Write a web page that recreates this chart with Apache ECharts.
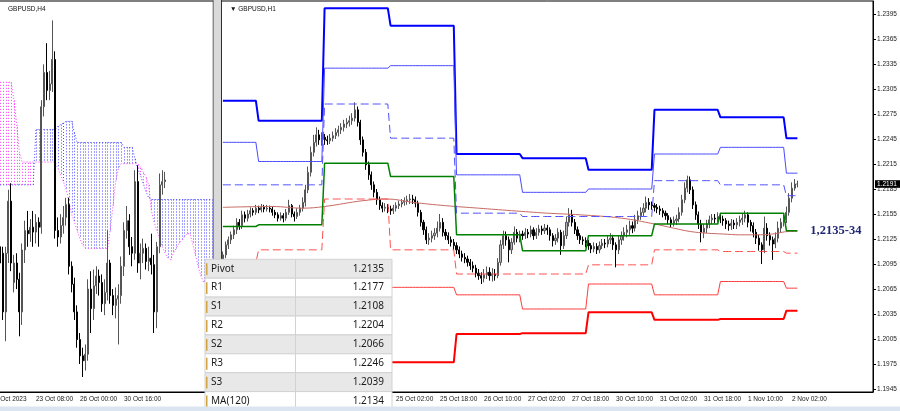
<!DOCTYPE html>
<html><head><meta charset="utf-8">
<script src="https://cdn.jsdelivr.net/npm/echarts@6/dist/echarts.min.js"></script>
<style>html,body{margin:0;padding:0;background:#fff}#c{width:900px;height:411px}</style>
</head><body><div id="c"></div>
<script>
// ---------------- DATA ----------------
const symbolH4 = 'GBPUSD,H4';
const symbolH1 = '\u25BC GBPUSD,H1';
const annotText = '1,2135-34';

// H1 calendar (days shown, first hour of first day)
const h1Days = ['20 Oct','23 Oct','24 Oct','25 Oct','26 Oct','27 Oct','30 Oct','31 Oct','1 Nov','2 Nov','3 Nov'];
const h1FirstHour = 11;
const h1SlotCount = 237;
const h1TickLabels = ['23 Oct 02:00','23 Oct 18:00','24 Oct 10:00','25 Oct 02:00','25 Oct 18:00','26 Oct 10:00','27 Oct 02:00','27 Oct 18:00','30 Oct 10:00','31 Oct 02:00','31 Oct 18:00','1 Nov 10:00','2 Nov 02:00'];
const h1PriceTicks = [1.1945,1.1975,1.2005,1.2035,1.2065,1.2095,1.2125,1.2155,1.2185,1.2215,1.2245,1.2275,1.2305,1.2335,1.2365,1.2395];

// H4 calendar
const h4Days = ['19 Oct','20 Oct','23 Oct','24 Oct','25 Oct','26 Oct','27 Oct','30 Oct','31 Oct','1 Nov','2 Nov','3 Nov','6 Nov','7 Nov'];
const h4FirstHour = 4;
const h4SlotCount = 78;
const h4TickCats = ['19 Oct 04:00','23 Oct 08:00','26 Oct 00:00','30 Oct 16:00'];
const h4TickLabels = ['19 Oct 2023','23 Oct 08:00','26 Oct 00:00','30 Oct 16:00'];

// H1 candles [open, close, low, high]
const h1Candles = [
[1.2100,1.2106,1.2094,1.2110],[1.2106,1.2118,1.2102,1.2122],[1.2118,1.2124,1.2113,1.2128],[1.2124,1.2130,1.2119,1.2134],
[1.2130,1.2136,1.2125,1.2141],[1.2136,1.2145,1.2131,1.2150],[1.2145,1.2141,1.2136,1.2149],[1.2141,1.2154,1.2137,1.2159],
[1.2154,1.2150,1.2145,1.2158],[1.2150,1.2155,1.2146,1.2160],[1.2155,1.2159,1.2151,1.2163],[1.2159,1.2157,1.2153,1.2162],
[1.2157,1.2162,1.2154,1.2166],[1.2162,1.2160,1.2156,1.2165],[1.2160,1.2163,1.2157,1.2167],[1.2163,1.2161,1.2157,1.2166],
[1.2161,1.2162,1.2158,1.2166],[1.2162,1.2161,1.2157,1.2165],[1.2161,1.2157,1.2153,1.2164],[1.2157,1.2154,1.2150,1.2160],
[1.2154,1.2150,1.2146,1.2157],[1.2150,1.2153,1.2147,1.2157],[1.2153,1.2150,1.2145,1.2156],[1.2150,1.2157,1.2147,1.2161],
[1.2157,1.2165,1.2154,1.2172],[1.2165,1.2155,1.2151,1.2167],[1.2155,1.2152,1.2146,1.2158],[1.2152,1.2157,1.2149,1.2162],
[1.2157,1.2162,1.2153,1.2166],[1.2162,1.2169,1.2158,1.2175],[1.2169,1.2184,1.2164,1.2190],[1.2184,1.2205,1.2180,1.2212],
[1.2205,1.2229,1.2200,1.2236],[1.2229,1.2241,1.2224,1.2250],[1.2241,1.2250,1.2236,1.2259],[1.2250,1.2244,1.2238,1.2256],
[1.2244,1.2247,1.2237,1.2253],[1.2247,1.2244,1.2238,1.2251],[1.2244,1.2243,1.2238,1.2249],[1.2243,1.2246,1.2239,1.2251],
[1.2246,1.2249,1.2242,1.2254],[1.2249,1.2253,1.2245,1.2258],[1.2253,1.2256,1.2248,1.2261],[1.2256,1.2259,1.2251,1.2264],
[1.2259,1.2263,1.2254,1.2268],[1.2263,1.2265,1.2258,1.2270],[1.2265,1.2267,1.2260,1.2273],[1.2267,1.2270,1.2262,1.2276],
[1.2270,1.2280,1.2266,1.2289],[1.2280,1.2265,1.2260,1.2284],[1.2265,1.2244,1.2238,1.2268],[1.2244,1.2229,1.2224,1.2248],
[1.2229,1.2214,1.2208,1.2233],[1.2214,1.2202,1.2196,1.2218],[1.2202,1.2190,1.2184,1.2206],[1.2190,1.2181,1.2175,1.2194],
[1.2181,1.2172,1.2166,1.2185],[1.2172,1.2165,1.2160,1.2176],[1.2165,1.2162,1.2157,1.2169],[1.2162,1.2163,1.2158,1.2168],
[1.2163,1.2161,1.2156,1.2167],[1.2161,1.2159,1.2154,1.2165],[1.2159,1.2162,1.2155,1.2166],[1.2162,1.2165,1.2158,1.2169],
[1.2165,1.2167,1.2161,1.2171],[1.2167,1.2169,1.2163,1.2173],[1.2169,1.2171,1.2165,1.2175],[1.2171,1.2172,1.2166,1.2177],
[1.2172,1.2173,1.2167,1.2179],[1.2173,1.2172,1.2167,1.2178],[1.2172,1.2168,1.2163,1.2176],[1.2168,1.2157,1.2152,1.2171],
[1.2157,1.2145,1.2140,1.2160],[1.2145,1.2136,1.2130,1.2148],[1.2136,1.2124,1.2119,1.2140],[1.2124,1.2126,1.2118,1.2132],
[1.2126,1.2129,1.2121,1.2135],[1.2129,1.2132,1.2124,1.2138],[1.2132,1.2138,1.2127,1.2146],[1.2138,1.2145,1.2134,1.2155],
[1.2145,1.2133,1.2128,1.2150],[1.2133,1.2129,1.2124,1.2137],[1.2129,1.2124,1.2119,1.2133],[1.2124,1.2121,1.2116,1.2128],
[1.2121,1.2117,1.2112,1.2125],[1.2117,1.2112,1.2107,1.2121],[1.2112,1.2107,1.2102,1.2116],[1.2107,1.2103,1.2098,1.2111],
[1.2103,1.2101,1.2096,1.2108],[1.2101,1.2097,1.2092,1.2105],[1.2097,1.2093,1.2088,1.2101],[1.2093,1.2090,1.2085,1.2098],
[1.2090,1.2084,1.2079,1.2094],[1.2084,1.2081,1.2076,1.2089],[1.2081,1.2078,1.2071,1.2085],[1.2078,1.2082,1.2073,1.2089],
[1.2082,1.2085,1.2077,1.2092],[1.2085,1.2081,1.2075,1.2091],[1.2081,1.2083,1.2074,1.2090],[1.2083,1.2081,1.2075,1.2089],
[1.2081,1.2097,1.2078,1.2102],[1.2097,1.2118,1.2093,1.2124],[1.2118,1.2129,1.2113,1.2135],[1.2129,1.2124,1.2117,1.2134],
[1.2124,1.2112,1.2097,1.2128],[1.2112,1.2121,1.2107,1.2126],[1.2121,1.2133,1.2118,1.2140],[1.2133,1.2126,1.2121,1.2137],
[1.2126,1.2131,1.2121,1.2135],[1.2131,1.2129,1.2124,1.2135],[1.2129,1.2133,1.2125,1.2138],[1.2133,1.2131,1.2126,1.2137],
[1.2131,1.2136,1.2127,1.2141],[1.2136,1.2129,1.2124,1.2139],[1.2129,1.2133,1.2125,1.2138],[1.2133,1.2137,1.2129,1.2142],
[1.2137,1.2135,1.2130,1.2141],[1.2135,1.2138,1.2131,1.2143],[1.2138,1.2136,1.2130,1.2142],[1.2136,1.2129,1.2123,1.2139],
[1.2129,1.2123,1.2116,1.2132],[1.2123,1.2126,1.2118,1.2131],[1.2126,1.2133,1.2121,1.2138],[1.2133,1.2117,1.2106,1.2136],
[1.2117,1.2129,1.2113,1.2135],[1.2129,1.2145,1.2125,1.2152],[1.2145,1.2154,1.2140,1.2162],[1.2154,1.2145,1.2140,1.2160],
[1.2145,1.2136,1.2131,1.2149],[1.2136,1.2129,1.2124,1.2140],[1.2129,1.2124,1.2119,1.2132],[1.2124,1.2123,1.2118,1.2128],
[1.2123,1.2120,1.2115,1.2127],[1.2120,1.2117,1.2112,1.2124],[1.2117,1.2113,1.2108,1.2120],[1.2113,1.2116,1.2109,1.2121],
[1.2116,1.2112,1.2107,1.2120],[1.2112,1.2117,1.2108,1.2122],[1.2117,1.2120,1.2113,1.2125],[1.2120,1.2119,1.2114,1.2125],
[1.2119,1.2124,1.2115,1.2129],[1.2124,1.2126,1.2119,1.2132],[1.2126,1.2118,1.2112,1.2130],[1.2118,1.2112,1.2091,1.2121],
[1.2112,1.2124,1.2107,1.2129],[1.2124,1.2129,1.2118,1.2134],[1.2129,1.2133,1.2123,1.2139],[1.2133,1.2136,1.2127,1.2142],
[1.2136,1.2141,1.2130,1.2147],[1.2141,1.2138,1.2132,1.2146],[1.2138,1.2148,1.2134,1.2154],[1.2148,1.2153,1.2143,1.2159],
[1.2153,1.2157,1.2148,1.2163],[1.2157,1.2162,1.2152,1.2168],[1.2162,1.2169,1.2157,1.2176],[1.2169,1.2166,1.2160,1.2174],
[1.2166,1.2165,1.2160,1.2170],[1.2165,1.2163,1.2158,1.2168],[1.2163,1.2161,1.2156,1.2167],[1.2161,1.2159,1.2154,1.2165],
[1.2159,1.2156,1.2151,1.2162],[1.2156,1.2153,1.2148,1.2159],[1.2153,1.2148,1.2143,1.2156],[1.2148,1.2144,1.2139,1.2151],
[1.2144,1.2147,1.2140,1.2152],[1.2147,1.2149,1.2142,1.2154],[1.2149,1.2157,1.2145,1.2163],[1.2157,1.2172,1.2153,1.2178],
[1.2172,1.2186,1.2168,1.2193],[1.2186,1.2196,1.2181,1.2201],[1.2196,1.2184,1.2179,1.2200],[1.2184,1.2166,1.2161,1.2188],
[1.2166,1.2154,1.2148,1.2170],[1.2154,1.2143,1.2137,1.2158],[1.2143,1.2133,1.2121,1.2148],[1.2133,1.2138,1.2126,1.2143],
[1.2138,1.2143,1.2132,1.2148],[1.2143,1.2148,1.2138,1.2153],[1.2148,1.2150,1.2143,1.2155],[1.2150,1.2149,1.2144,1.2155],
[1.2149,1.2152,1.2145,1.2157],[1.2152,1.2149,1.2144,1.2156],[1.2149,1.2147,1.2141,1.2153],[1.2147,1.2143,1.2137,1.2150],
[1.2143,1.2141,1.2135,1.2147],[1.2141,1.2144,1.2136,1.2149],[1.2144,1.2142,1.2137,1.2148],[1.2142,1.2145,1.2137,1.2150],
[1.2145,1.2148,1.2140,1.2153],[1.2148,1.2150,1.2142,1.2156],[1.2150,1.2154,1.2145,1.2159],[1.2154,1.2145,1.2139,1.2157],
[1.2145,1.2141,1.2134,1.2148],[1.2141,1.2133,1.2127,1.2145],[1.2133,1.2126,1.2119,1.2137],[1.2126,1.2118,1.2111,1.2130],
[1.2118,1.2112,1.2095,1.2121],[1.2112,1.2138,1.2108,1.2152],[1.2138,1.2129,1.2123,1.2144],[1.2129,1.2124,1.2117,1.2133],
[1.2124,1.2119,1.2100,1.2128],[1.2119,1.2126,1.2114,1.2133],[1.2126,1.2138,1.2121,1.2146],[1.2138,1.2145,1.2133,1.2150],
[1.2145,1.2148,1.2140,1.2154],[1.2148,1.2157,1.2144,1.2164],[1.2157,1.2174,1.2153,1.2180],[1.2174,1.2186,1.2169,1.2193],
[1.2186,1.2191,1.2183,1.2197],[1.2191,1.2191,1.2187,1.2195]
];

// H4 candles [open, close, low, high]
const h4Candles = [
[1.2150,1.2140,1.2132,1.2155],[1.2146,1.2110,1.2105,1.2150],[1.2110,1.2146,1.2092,1.2150],[1.2146,1.2178,1.2140,1.2185],
[1.2178,1.2140,1.2135,1.2189],[1.2128,1.2140,1.2122,1.2145],[1.2140,1.2130,1.2124,1.2146],[1.2130,1.2110,1.2095,1.2134],
[1.2110,1.2148,1.2102,1.2152],[1.2148,1.2160,1.2140,1.2166],[1.2160,1.2158,1.2150,1.2172],[1.2158,1.2162,1.2153,1.2167],
[1.2162,1.2159,1.2150,1.2172],[1.2159,1.2165,1.2152,1.2170],[1.2165,1.2162,1.2150,1.2168],[1.2162,1.2236,1.2158,1.2240],
[1.2236,1.2257,1.2230,1.2262],[1.2257,1.2246,1.2240,1.2275],[1.2246,1.2250,1.2240,1.2258],[1.2250,1.2265,1.2245,1.2289],
[1.2265,1.2160,1.2155,1.2270],[1.2160,1.2156,1.2150,1.2168],[1.2156,1.2163,1.2152,1.2170],[1.2163,1.2168,1.2158,1.2175],
[1.2168,1.2176,1.2163,1.2180],[1.2176,1.2138,1.2133,1.2180],[1.2138,1.2127,1.2122,1.2141],[1.2127,1.2110,1.2105,1.2131],
[1.2110,1.2093,1.2088,1.2114],[1.2093,1.2083,1.2078,1.2097],[1.2083,1.2080,1.2070,1.2088],[1.2080,1.2084,1.2074,1.2090],
[1.2084,1.2124,1.2080,1.2130],[1.2124,1.2112,1.2097,1.2135],[1.2112,1.2126,1.2105,1.2136],[1.2126,1.2132,1.2121,1.2138],
[1.2132,1.2128,1.2120,1.2136],[1.2128,1.2115,1.2110,1.2133],[1.2115,1.2122,1.2108,1.2130],[1.2122,1.2140,1.2117,1.2160],
[1.2140,1.2120,1.2115,1.2142],[1.2120,1.2114,1.2108,1.2124],[1.2114,1.2118,1.2106,1.2125],[1.2118,1.2120,1.2090,1.2127],
[1.2120,1.2138,1.2115,1.2144],[1.2138,1.2160,1.2132,1.2165],[1.2160,1.2166,1.2155,1.2175],[1.2166,1.2150,1.2145,1.2170],
[1.2150,1.2146,1.2138,1.2156],[1.2146,1.2190,1.2142,1.2197],[1.2190,1.2140,1.2134,1.2200],[1.2140,1.2146,1.2130,1.2152],
[1.2146,1.2149,1.2140,1.2155],[1.2149,1.2141,1.2136,1.2152],[1.2141,1.2143,1.2135,1.2150],[1.2143,1.2139,1.2133,1.2158],
[1.2139,1.2110,1.2097,1.2145],[1.2110,1.2150,1.2100,1.2153],[1.2150,1.2188,1.2146,1.2195],[1.2188,1.2190,1.2182,1.2197],
[1.2190,1.2191,1.2186,1.2196]
];

// Ichimoku cloud spans (H4, shifted forward)
const senkouA = [
1.2188,1.2188,1.2188,1.2188,1.2188,1.2188,1.2188,1.2188,1.2188,1.2188,1.2188,1.2188,1.2188,
1.2222,1.2222,1.2222,1.2222,1.2222,1.2222,1.2222,1.2222,
1.2224,1.2225,1.2226,1.2227,1.2227,1.2227,1.2220,
1.2214,1.2214,1.2214,1.2214,1.2214,1.2214,1.2214,1.2214,1.2214,1.2214,1.2214,1.2214,1.2214,1.2214,1.2214,1.2214,1.2214,
1.2211,1.2211,1.2211,1.2211,
1.2204,1.2198,1.2194,1.2189,1.2184,1.2180,
1.2179,1.2179,1.2179,1.2179,1.2179,1.2179,1.2179,1.2179,1.2179,1.2179,1.2179,1.2179,1.2179,1.2179,1.2179,1.2179,1.2179,1.2179,1.2179,1.2179,1.2179,1.2179,1.2179
];
const senkouB = [
1.2251,1.2251,1.2251,1.2251,1.2251,1.2240,1.2225,1.2208,
1.2202,1.2202,1.2202,1.2202,1.2202,1.2202,1.2202,1.2202,1.2202,1.2202,1.2202,1.2202,1.2202,
1.2198,1.2194,1.2190,1.2185,1.2178,1.2170,1.2165,1.2160,1.2155,1.2151,
1.2149,1.2149,1.2149,1.2149,1.2149,1.2149,1.2149,1.2149,1.2149,
1.2160,1.2175,1.2190,1.2198,
1.2201,1.2201,1.2201,1.2201,1.2201,1.2201,1.2201,
1.2199,1.2196,1.2193,1.2188,
1.2172,1.2165,1.2160,1.2155,1.2150,1.2146,1.2143,1.2142,1.2146,1.2149,1.2152,1.2154,1.2156,1.2158,1.2158,1.2152,1.2145,1.2138,1.2132,1.2128,1.2132,1.2136,1.2140
];

// Daily pivot levels (H1 panel), one value per day
const pivotDays = ['20 Oct','23 Oct','24 Oct','25 Oct','26 Oct','27 Oct','30 Oct','31 Oct','1 Nov','2 Nov'];
const levelR3 = [1.2291,1.2267,1.2402,1.2381,1.2227,1.2222,1.2208,1.2280,1.2271,1.2246];
const levelR2 = [1.2241,1.2218,1.2330,1.2333,1.2202,1.2181,1.2185,1.2227,1.2235,1.2204];
const levelR1 = [1.2190,1.2190,1.2287,1.2246,1.2156,1.2152,1.2152,1.2195,1.2190,1.2177];
const levelPP = [1.2140,1.2142,1.2216,1.2200,1.2130,1.2111,1.2129,1.2143,1.2156,1.2135];
const levelS1 = [1.2097,1.2112,1.2173,1.2112,1.2083,1.2083,1.2094,1.2112,1.2110,1.2108];
const levelS2 = [1.2039,1.2066,1.2085,1.2067,1.2058,1.2041,1.2071,1.2058,1.2074,1.2066];
const levelS3 = [1.2005,1.2030,1.2040,1.1977,1.2011,1.2012,1.2037,1.2028,1.2029,1.2039];

// MA(120) sampled along the H1 bars
const maBarIndex = [0,18,29,37,51,60,69,81,93,105,118,130,145,157,164,170,176,182,188,194,200,206,209];
const maValue    = [1.2163,1.2164,1.2162,1.2164,1.2171,1.2173,1.2169,1.2165,1.2162,1.2159,1.2156,1.2154,1.2150,1.2143,1.2138,1.2134,1.2132,1.2131,1.2130,1.2130,1.2131,1.2134,1.2134];

// Data window table
const tableLabels = ['Pivot','R1','S1','R2','S2','R3','S3','MA(120)'];
const tableValues = [1.2135,1.2177,1.2108,1.2204,1.2066,1.2246,1.2039,1.2134];

// ---------------- BUILD ----------------
function hh(h){return (h<10?'0':'')+h+':00';}
const h1Cats=[];
for(let d=0; d<h1Days.length && h1Cats.length<h1SlotCount; d++){
  for(let h=(d===0?h1FirstHour:0); h<24 && h1Cats.length<h1SlotCount; h++) h1Cats.push(h1Days[d]+' '+hh(h));
}
const h4Cats=[];
for(let d=0; d<h4Days.length && h4Cats.length<h4SlotCount; d++){
  for(let h=(d===0?h4FirstHour:0); h<24 && h4Cats.length<h4SlotCount; h+=4) h4Cats.push(h4Days[d]+' '+hh(h));
}
function dayOf(cat){return cat.split(' ').slice(0,2).join(' ');}
function levelSeriesData(levels){
  return h1Candles.map((c,i)=>{const k=pivotDays.indexOf(dayOf(h1Cats[i])); return k<0?null:levels[k];});
}
const h1TickSet = new Set(h1TickLabels);
const lastPrice = h1Candles[h1Candles.length-1][1];

const SMALL = {fontFamily:'"Liberation Sans", Arial, sans-serif', fontSize:6.5, color:'#1a1a1a'};

const chart = echarts.init(document.getElementById('c'), null, {renderer:'canvas'});

function lvl(name, levels, color, width, dashed){
  return {type:'line', name, xAxisIndex:1, yAxisIndex:1, data:levelSeriesData(levels), symbol:'none',
    lineStyle:{color, width, type: dashed?[8,4]:'solid'}, silent:true, z:4};
}

const ppSeries = lvl('Pivot', levelPP, '#008000', 1.5, false);
ppSeries.markPoint = {
  symbol:'rect', symbolSize:1, itemStyle:{color:'rgba(0,0,0,0)'}, silent:true, animation:false,
  data:[{coord:[h1Cats[223], levelPP[levelPP.length-1]]}],
  label:{show:true, position:'inside', formatter:annotText, color:'#1f2673', fontFamily:'"Liberation Serif","Times New Roman",serif', fontWeight:'bold', fontSize:12.5}
};

const option = {
  animation:false,
  backgroundColor:'#ffffff',
  title:[
    {text:symbolH4, left:3, top:1, textStyle:{fontFamily:SMALL.fontFamily, fontSize:6.5, fontWeight:'normal', color:'#111'}},
    {text:symbolH1, left:225, top:1, textStyle:{fontFamily:SMALL.fontFamily, fontSize:6.5, fontWeight:'normal', color:'#111'}}
  ],
  grid:[
    {left:-1.2, top:1, width:214.5, height:391, show:true, borderColor:'#000', borderWidth:1, containLabel:false, outerBoundsMode:'none'},
    {left:221.5, top:1, width:651.5, height:391, show:true, borderColor:'#000', borderWidth:1, containLabel:false, outerBoundsMode:'none'}
  ],
  xAxis:[
    {type:'category', gridIndex:0, data:h4Cats, boundaryGap:true,
      axisLine:{lineStyle:{color:'#000'}},
      axisTick:{alignWithLabel:true, length:3, lineStyle:{color:'#000'}, interval:(i,v)=>h4TickCats.indexOf(v)>=0},
      axisLabel:{...SMALL, margin:4, align:'left', hideOverlap:false, interval:(i,v)=>h4TickCats.indexOf(v)>=0,
        formatter:(v)=>h4TickLabels[h4TickCats.indexOf(v)]},
      splitLine:{show:false}},
    {type:'category', gridIndex:1, data:h1Cats, boundaryGap:true,
      axisLine:{lineStyle:{color:'#000'}},
      axisTick:{alignWithLabel:true, length:3, lineStyle:{color:'#000'}, interval:(i,v)=>h1TickSet.has(v)},
      axisLabel:{...SMALL, margin:4, align:'left', hideOverlap:false, interval:(i,v)=>h1TickSet.has(v)},
      splitLine:{show:false}}
  ],
  yAxis:[
    {type:'value', gridIndex:0, min:1.20608, max:1.23009, show:false, splitLine:{show:false}},
    {type:'value', gridIndex:1, position:'right', min:1.19414, max:1.24106,
      axisLine:{show:true, lineStyle:{color:'#000'}},
      axisTick:{show:true, length:3, lineStyle:{color:'#000'}, customValues:h1PriceTicks},
      axisLabel:{...SMALL, margin:4, customValues:h1PriceTicks, formatter:(v)=>v.toFixed(4)},
      splitLine:{show:false}}
  ],
  series:[
    {type:'custom', xAxisIndex:0, yAxisIndex:0, silent:true, clip:true, z:1,
      data:senkouA.map((a,i)=>[i,a,senkouB[i]]), encode:{x:0, y:1},
      renderItem:(params, api)=>{
        const i=api.value(0), a=api.value(1), b=api.value(2);
        const p1=api.coord([i,a]), p2=api.coord([i,b]);
        const x=Math.round(p1[0])+0.5;
        return {type:'line', shape:{x1:x, y1:p1[1], x2:x, y2:p2[1]},
          style:{stroke: a>=b?'#4646ff':'#ff3cff', lineWidth:1, lineDash:[1,2]}};
      }},
    {type:'line', xAxisIndex:0, yAxisIndex:0, data:senkouA, symbol:'none', silent:true, z:2,
      lineStyle:{color:'#4646ff', width:1, type:[1,2]}},
    {type:'line', xAxisIndex:0, yAxisIndex:0, data:senkouB, symbol:'none', silent:true, z:2,
      lineStyle:{color:'#ff3cff', width:1, type:[1,2]}},
    {type:'candlestick', xAxisIndex:0, yAxisIndex:0, data:h4Candles, barWidth:1.6, silent:true, z:3,
      itemStyle:{color:'#b4b4b4', color0:'#000000', borderColor:'#555555', borderColor0:'#000000', borderWidth:1}},
    {type:'candlestick', xAxisIndex:1, yAxisIndex:1, data:h1Candles, barWidth:1.6, silent:true, z:3,
      itemStyle:{color:'#b4b4b4', color0:'#000000', borderColor:'#555555', borderColor0:'#000000', borderWidth:1}},
    {type:'line', xAxisIndex:1, yAxisIndex:1, data:maBarIndex.map((b,k)=>[b, maValue[k]]), symbol:'none', smooth:0.4,
      silent:true, z:4, lineStyle:{color:'#c86a64', width:1}},
    lvl('R3', levelR3, '#0000ff', 2, false),
    lvl('R2', levelR2, '#4a4aff', 1, false),
    lvl('R1', levelR1, '#5050ff', 1, true),
    ppSeries,
    lvl('S1', levelS1, '#ff5050', 1, true),
    lvl('S2', levelS2, '#ff3c3c', 1, false),
    lvl('S3', levelS3, '#ff0000', 2, false)
  ]
};
chart.setOption(option);

// ---------- overlay: divider, bottom bar, data-window table, bid label ----------
const g=[];
g.push({type:'rect', shape:{x:213.3, y:0, width:8.2, height:411}, style:{fill:'#d9d9d9'}, z:50});
g.push({type:'line', shape:{x1:213.5, y1:0, x2:213.5, y2:411}, style:{stroke:'#8a8a8a', lineWidth:1}, z:51});
g.push({type:'line', shape:{x1:221.5, y1:0, x2:221.5, y2:392}, style:{stroke:'#303030', lineWidth:1}, z:51});
const tx=205, tw=187, ty=259.3, rh=18.9, colX=295;
tableLabels.forEach((lab,k)=>{
  const y=ty+k*rh;
  g.push({type:'rect', shape:{x:tx, y:y, width:tw, height:rh}, style:{fill:k%2===0?'#e8e8e8':'#ffffff', stroke:'#d2d2d2', lineWidth:1}, z:60});
  g.push({type:'rect', shape:{x:206, y:y+4, width:1.5, height:rh-7}, style:{fill:'#d2a444'}, z:61});
  g.push({type:'text', x:211, y:y+rh/2, style:{text:lab, fill:'#1a1a1a', font:'10px "Noto Sans", sans-serif', textAlign:'left', textVerticalAlign:'middle'}, z:62});
  g.push({type:'text', x:384, y:y+rh/2, style:{text:tableValues[k].toFixed(4), fill:'#1a1a1a', font:'10px "Noto Sans", sans-serif', textAlign:'right', textVerticalAlign:'middle'}, z:62});
});
g.push({type:'line', shape:{x1:colX+0.5, y1:ty, x2:colX+0.5, y2:ty+8*rh}, style:{stroke:'#d2d2d2', lineWidth:1}, z:61});
g.push({type:'rect', shape:{x:0, y:406.5, width:900, height:5}, style:{fill:'#dbe5f2'}, z:70});
// bid price tag on the price scale, placed through the axis scale
const bidY = chart.convertToPixel({yAxisIndex:1}, lastPrice);
g.push({type:'rect', shape:{x:875, y:bidY-3.8, width:25, height:7.6}, style:{fill:'#000'}, z:80});
g.push({type:'text', x:877, y:bidY, style:{text:lastPrice.toFixed(4), fill:'#fff', font:'6.5px "Liberation Sans", Arial, sans-serif', textAlign:'left', textVerticalAlign:'middle'}, z:81});
chart.setOption({graphic:g});

// shift the first H4 date label left so that only its tail shows, as in the source
const zr = chart.getZr();
zr.storage.getDisplayList(true).forEach(el=>{
  if(el.style && el.style.text===h4TickLabels[0]){ el.x -= 9; el.markRedraw(); }
});
zr.refreshImmediately();
</script></body></html>
